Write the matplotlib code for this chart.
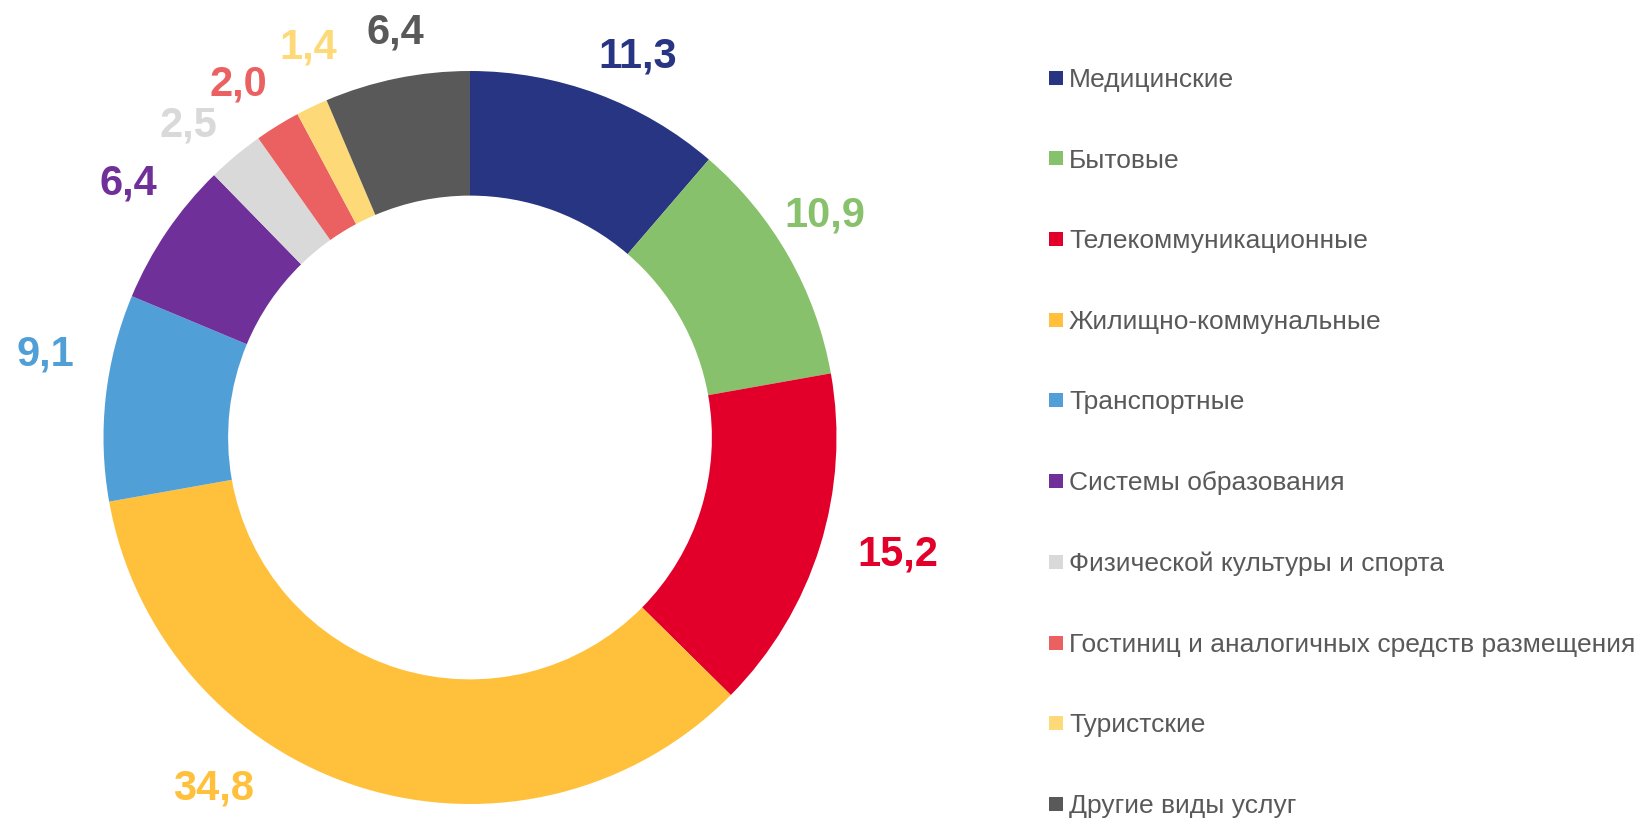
import numpy as np
import matplotlib
matplotlib.use('Agg')
import matplotlib.pyplot as plt
from matplotlib.lines import Line2D

plt.rcParams['font.family'] = ['Liberation Sans', 'DejaVu Sans']

categories = ['Медицинские', 'Бытовые', 'Телекоммуникационные', 'Жилищно-коммунальные',
              'Транспортные', 'Системы образования', 'Физической культуры и спорта',
              'Гостиниц и аналогичных средств размещения', 'Туристские', 'Другие виды услуг']
values = [11.3, 10.9, 15.2, 34.8, 9.1, 6.4, 2.5, 2.0, 1.4, 6.4]
colors = ['#283583', '#88C16B', '#E2002A', '#FFC13B', '#519FD7',
          '#70309A', '#D9D9D9', '#EB6161', '#FDDA77', '#595959']

# label placement tweaks (degrees off the slice middle, radial distance)
label_shift = [-3.2, 2.6, 2.3, -19.1, -5.1, -2.7, 2.1, 1.4, -3.2, -1.1]
label_dist = [1.143, 1.146, 1.209, 1.181, 1.183, 1.166, 1.152, 1.158, 1.159, 1.13]

W, H = 1647, 819
fig = plt.figure(figsize=(W / 100, H / 100), dpi=100)

# pie centre (px from left / bottom) and outer radius in px
cx, cy, R = 470, 381.5, 366.5
lim = 1.25
half = lim * R
ax = fig.add_axes([(cx - half) / W, (cy - half) / H, 2 * half / W, 2 * half / H])
ax.set_xlim(-lim, lim)
ax.set_ylim(-lim, lim)
ax.set_aspect('equal')
ax.axis('off')

wedges, _ = ax.pie(values, colors=colors, startangle=90, counterclock=False, radius=1.0,
                   wedgeprops=dict(width=0.34, linewidth=0))

for w, v, c, s, d in zip(wedges, values, colors, label_shift, label_dist):
    ang = np.deg2rad((w.theta1 + w.theta2) / 2 + s)
    ax.annotate(('%.1f' % v).replace('.', ','), (d * np.cos(ang), d * np.sin(ang)),
                xytext=(0, -2), textcoords='offset points',
                ha='center', va='center', fontsize=30, fontweight='bold', color=c,
                annotation_clip=False)

handles = [Line2D([], [], marker='s', linestyle='none', markersize=10,
                  markerfacecolor=c, markeredgewidth=0) for c in colors]
leg = fig.legend(handles, categories, loc='upper left', bbox_to_anchor=(1049 / W, 1 - 68 / H),
                 frameon=False, fontsize=19, labelspacing=2.145, handlelength=0.55,
                 handletextpad=0.21, borderpad=0, borderaxespad=0)
for t in leg.get_texts():
    t.set_color('#595959')

fig.savefig('out.png', dpi=100)
